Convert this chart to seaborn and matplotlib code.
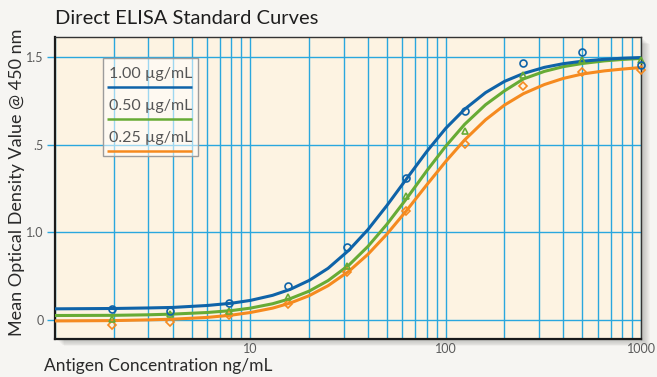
import matplotlib
matplotlib.use('Agg')
import matplotlib.pyplot as plt
from matplotlib.patches import Rectangle
import seaborn as sns
import pandas as pd

# concentrations of the standards (ng/mL)
conc = [1.95, 3.9, 7.8, 15.6, 31.25, 62.5, 125, 250, 500, 1000]
od_100 = [0.063, 0.053, 0.099, 0.196, 0.415, 0.808, 1.192, 1.464, 1.529, 1.455]
od_050 = [0.008, 0.034, 0.053, 0.133, 0.308, 0.707, 1.080, 1.400, 1.483, 1.483]
od_025 = [-0.027, -0.013, 0.029, 0.091, 0.274, 0.622, 1.004, 1.337, 1.413, 1.426]

# fitted curves
conc_fit = [1, 2, 3, 4, 6, 8, 10, 13, 16, 20, 25, 32, 40, 50, 63, 80, 100,
            125, 160, 200, 250, 320, 400, 500, 650, 800, 1000]
fit_100 = [0.064, 0.066, 0.069, 0.072, 0.083, 0.096, 0.112, 0.141, 0.175, 0.226,
           0.295, 0.399, 0.516, 0.653, 0.805, 0.961, 1.093, 1.202, 1.297, 1.361,
           1.406, 1.441, 1.462, 1.476, 1.487, 1.493, 1.497]
fit_050 = [0.026, 0.027, 0.030, 0.034, 0.043, 0.054, 0.068, 0.093, 0.122, 0.165,
           0.225, 0.314, 0.420, 0.546, 0.692, 0.851, 0.991, 1.116, 1.228, 1.307,
           1.375, 1.418, 1.445, 1.463, 1.478, 1.486, 1.492]
fit_025 = [-0.005, -0.003, 0.001, 0.005, 0.015, 0.028, 0.043, 0.068, 0.097, 0.139,
           0.196, 0.279, 0.375, 0.490, 0.624, 0.771, 0.904, 1.027, 1.142, 1.226,
           1.291, 1.343, 1.378, 1.403, 1.421, 1.431, 1.440]

labels = ['1.00 µg/mL', '0.50 µg/mL', '0.25 µg/mL']
colors = ['#0f63a8', '#67ab35', '#f58a1f']
markers = ['o', '^', 'D']
ytick_vals = [0, 0.5, 1.0, 1.5]
ytick_labels = ['0', '1.0', '.5', '1.5']
xtick_vals = [10, 100, 1000]
xtick_labels = ['10', '100', '1000']

sns.set_theme(style='white')
plt.rcParams['font.family'] = ['Lato', 'DejaVu Sans']

fig = plt.figure(figsize=(6.57, 3.77), dpi=100, facecolor='#f6f5f2')
ax = fig.add_axes([0.0837, 0.1008, 0.892, 0.801])
ax.set_facecolor('#fdf3e2')

# drop shadow behind the plot area
pos = ax.get_position()
for i in range(1, 10):
    dx = i * 1.0 / 657
    dy = i * 0.8 / 377
    fig.add_artist(Rectangle((pos.x0 + dx, pos.y0 - dy), pos.width, pos.height,
                             transform=fig.transFigure, facecolor='k',
                             alpha=0.03, edgecolor='none', zorder=-1))

ax.set_xscale('log')
ax.set_xlim(1, 1000)
ax.set_ylim(-0.108, 1.614)

# grid on every decade step
grid_x = [m * 10 ** d for d in range(3) for m in range(1, 10)] + [1000]
for gx in grid_x:
    ax.axvline(gx, color='#2aa7de', lw=1.0, zorder=1)
for gy in ytick_vals:
    ax.axhline(gy, color='#2aa7de', lw=1.0, zorder=1)

series = [(fit_100, od_100), (fit_050, od_050), (fit_025, od_025)]
for (fit, pts), lab, col, mk in list(zip(series, labels, colors, markers))[::-1]:
    df = pd.DataFrame({'conc': conc_fit, 'od': fit})
    sns.lineplot(data=df, x='conc', y='od', color=col, lw=2.2, ax=ax,
                 sort=False, estimator=None, zorder=3)
    ax.plot(conc, pts, linestyle='none', marker=mk, markersize=5 if mk != 'D' else 4.5,
            markerfacecolor='none', markeredgecolor=col, markeredgewidth=1.2,
            zorder=4, clip_on=False)

ax.set_xticks(xtick_vals)
ax.set_xticklabels(xtick_labels)
ax.xaxis.set_minor_locator(matplotlib.ticker.NullLocator())
ax.set_yticks(ytick_vals)
ax.set_yticklabels(ytick_labels)
ax.tick_params(axis='x', length=0, pad=3, labelsize=9, labelcolor='#5a5a5a')
ax.tick_params(axis='y', length=6, width=1.0, color='#2aa7de', left=True,
               pad=2, labelsize=9, labelcolor='#5a5a5a')

for side in ['left', 'bottom']:
    ax.spines[side].set_color('#1a1a1a')
    ax.spines[side].set_linewidth(1.6)
for side in ['top', 'right']:
    ax.spines[side].set_color('#333333')
    ax.spines[side].set_linewidth(1.0)

ax.set_xlabel('')
ax.set_ylabel('Mean Optical Density Value @ 450 nm', fontsize=13,
              color='#2a2a2a')
ax.yaxis.set_label_coords(-30 / 586, 0.52)
fig.text(44 / 657, 1 - 366 / 377, 'Antigen Concentration ng/mL', fontsize=12.5,
         color='#2a2a2a', ha='left', va='center')
fig.text(55 / 657, 1 - 19 / 377, 'Direct ELISA Standard Curves', fontsize=14.5,
         color='#1e1e1e', ha='left', va='center')

# legend box with coloured rule under each label
ax.add_patch(Rectangle((0.082, 0.607), 0.162, 0.322, transform=ax.transAxes,
                       facecolor='white', alpha=0.55, edgecolor='none', zorder=5))
ax.add_patch(Rectangle((0.082, 0.607), 0.162, 0.322, transform=ax.transAxes,
                       facecolor='none', edgecolor='#9c9c9c', lw=1.0, zorder=6))
for i, (lab, col) in enumerate(zip(labels, colors)):
    ty = 0.878 - i * 0.106
    ax.text(0.163, ty, lab, transform=ax.transAxes, ha='center', va='center',
            fontsize=11.5, color='#555555', zorder=7)
    ax.plot([0.0885, 0.2335], [ty - 0.043, ty - 0.043], transform=ax.transAxes,
            color=col, lw=1.8, zorder=7, solid_capstyle='butt')

fig.savefig('out.png', dpi=100, facecolor=fig.get_facecolor())
